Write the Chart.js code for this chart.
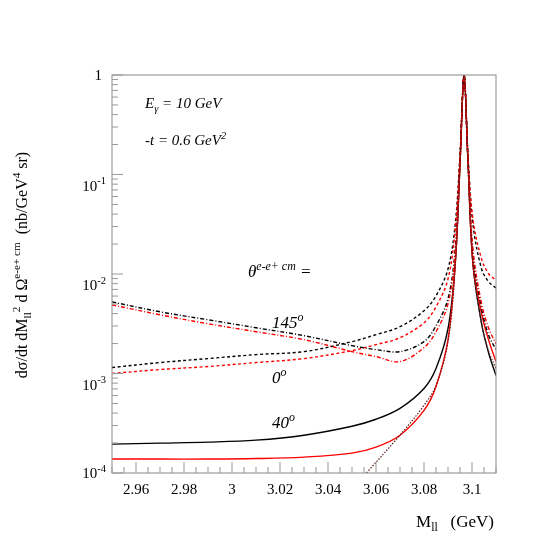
<!DOCTYPE html>
<html><head><meta charset="utf-8">
<script src="https://cdn.jsdelivr.net/npm/chart.js@4.4.0/dist/chart.umd.min.js"></script>
<style>html,body{margin:0;background:#fff}#c{display:block}</style>
</head><body>
<canvas id="c" width="540" height="540"></canvas>
<script>
// ====== data (log10 of cross section) ======
const xs = [2.95,2.97,2.99,3.01,3.03,3.05,3.06,3.07,3.08,3.085,3.09,3.093,3.095,3.0967,3.0983,3.1004,3.104,3.107,3.11];
const peakL = [-1.9,-0.9,0,-0.85,-1.9];
const blackSolid  = [-3.71,-3.70,-3.69,-3.67,-3.62,-3.53,-3.46,-3.35,-3.15,-2.95,-2.55, ...peakL,-2.5,-2.8,-3.02];
const redSolid    = [-3.86,-3.86,-3.86,-3.855,-3.84,-3.80,-3.74,-3.62,-3.37,-3.13,-2.66, ...peakL,-2.4,-2.67,-2.88];
const blackDashed = [-2.94,-2.89,-2.85,-2.81,-2.78,-2.68,-2.61,-2.53,-2.37,-2.22,-1.95, -1.5,-0.8,0,-0.8,-1.5,-1.95,-2.08,-2.14];
const redDashed   = [-3.00,-2.96,-2.93,-2.89,-2.85,-2.77,-2.71,-2.64,-2.49,-2.33,-2.05, -1.55,-0.82,0,-0.8,-1.45,-1.85,-2.0,-2.06];
const blackDashDot= [-2.28,-2.38,-2.46,-2.54,-2.62,-2.72,-2.76,-2.78,-2.68,-2.52,-2.25, -1.75,-0.85,0,-0.85,-1.8,-2.35,-2.62,-2.76];
const redDashDot  = [-2.31,-2.41,-2.5,-2.58,-2.66,-2.78,-2.83,-2.88,-2.74,-2.58,-2.3, -1.8,-0.87,0,-0.85,-1.75,-2.3,-2.55,-2.7];
const resX = [3.056,3.07,3.08,3.085,3.09,3.093,3.095,3.0967,3.0983,3.1004,3.104,3.107,3.11];
const resonance = [-4,-3.62,-3.32,-3.12,-2.68,-1.92,-0.9,0,-0.85,-1.9,-2.5,-2.78,-2.95];
const xTicks = [2.96,2.98,3.0,3.02,3.04,3.06,3.08,3.1];
const yDecades = [-4,-3,-2,-1,0];

const pts = (x, l) => x.map((v,i)=>({x:v, y:Math.pow(10,l[i])}));
const ds = (data, color, dash, w=1.4) => ({data, borderColor:color, borderWidth:w, borderDash:dash, pointRadius:0, tension:0.35, fill:false});

const SERIF = '"Liberation Serif","DejaVu Serif",serif';
// text with sup/sub segments
function rich(ctx, x, y, segs, size, italic, align){
  const f = (s)=> (italic?'italic ':'') + s + 'px ' + SERIF;
  let w = 0;
  segs.forEach(s=>{ ctx.font = f(s[1]?size*0.7:size); w += ctx.measureText(s[0]).width; });
  let cx = align==='right' ? x-w : align==='center' ? x-w/2 : x;
  ctx.textBaseline = 'alphabetic'; ctx.textAlign = 'left';
  segs.forEach(s=>{
    const sz = s[1]?size*0.7:size;
    ctx.font = f(sz);
    const dy = s[1]==='sup' ? -size*0.42 : s[1]==='sub' ? size*0.25 : 0;
    ctx.fillText(s[0], cx, y+dy);
    cx += ctx.measureText(s[0]).width;
  });
}

const deco = {
  id:'deco',
  afterDraw(chart){
    const {ctx, chartArea:a, scales:{x, y}} = chart;
    ctx.save();
    ctx.strokeStyle = '#888'; ctx.lineWidth = 1;
    ctx.strokeRect(a.left, a.top, a.right-a.left, a.bottom-a.top);
    // minor x ticks
    ctx.strokeStyle = '#999';
    for(let v=2.95; v<=3.1101; v+=0.005){
      const px = x.getPixelForValue(v);
      const major = xTicks.some(t=>Math.abs(t-v)<1e-6);
      ctx.beginPath(); ctx.moveTo(px, a.bottom); ctx.lineTo(px, a.bottom-(major?11:6)); ctx.stroke();
    }
    // y ticks
    yDecades.forEach(d=>{
      for(let k=1;k<10;k++){
        if(d===0 && k>1) break;
        const py = y.getPixelForValue(k*Math.pow(10,d));
        ctx.beginPath(); ctx.moveTo(a.left, py); ctx.lineTo(a.left+(k===1?11:6), py); ctx.stroke();
      }
    });
    ctx.fillStyle = '#000';
    yDecades.forEach(d=>{
      const py = y.getPixelForValue(Math.pow(10,d));
      if(d===0) rich(ctx, a.left-10, py+5, [['1']], 15, false, 'right');
      else if(d===-4) rich(ctx, a.left-6, py+5, [['10'],[String(d),'sup']], 15, false, 'right');
      else rich(ctx, a.left-6, py+16, [['10'],[String(d),'sup']], 15, false, 'right');
    });
    // labels
    rich(ctx, 145, 108, [['E'],['γ','sub'],[' = 10 GeV']], 15, true);
    rich(ctx, 145, 145, [['-t = 0.6 GeV'],['2','sup']], 15, true);
    rich(ctx, 248, 277, [['θ'],['e-e+ cm','sup'],[' =']], 17, true);
    rich(ctx, 272, 328, [['145'],['o','sup']], 17, true);
    rich(ctx, 272, 383, [['0'],['o','sup']], 17, true);
    rich(ctx, 272, 428, [['40'],['o','sup']], 17, true);
    rich(ctx, 494, 527, [['M'],['ll','sub'],['   (GeV)']], 17, false, 'right');
    ctx.translate(27, 265); ctx.rotate(-Math.PI/2);
    rich(ctx, 0, 0, [['dσ/dt dM'],['ll','sub'],['2','sup'],[' d Ω'],['e-e+ cm','sup'],['  (nb/GeV'],['4','sup'],[' sr)']], 16, false, 'center');
    ctx.restore();
  }
};

new Chart(document.getElementById('c'), {
  type:'line',
  data:{datasets:[
    ds(pts(resX, resonance), '#5a1e1e', [1.5,1.5], 1.2),
    ds(pts(xs, redDashDot), '#ff0000', [4,2,1,2]),
    ds(pts(xs, blackDashDot), '#000', [4,2,1,2]),
    ds(pts(xs, redDashed), '#ff0000', [3,2.5]),
    ds(pts(xs, blackDashed), '#000', [3,2.5]),
    ds(pts(xs, redSolid), '#ff0000', []),
    ds(pts(xs, blackSolid), '#000', []),
  ]},
  options:{
    responsive:false, animation:false,
    layout:{padding:{left:0, top:75, right:44, bottom:0}},
    plugins:{legend:{display:false}, tooltip:{enabled:false}},
    scales:{
      x:{type:'linear', min:2.95, max:3.11,
        afterBuildTicks: s=>{ s.ticks = xTicks.map(v=>({value:v})); },
        afterFit: s=>{ s.height = 67; },
        grid:{display:false, drawTicks:false}, border:{display:false},
        ticks:{padding:8, color:'#000', font:{family:SERIF, size:15}, maxRotation:0,
          callback: v=> String(+v.toFixed(2))}},
      y:{type:'logarithmic', min:1e-4, max:1,
        afterFit: s=>{ s.width = 112; },
        grid:{display:false, drawTicks:false}, border:{display:false},
        ticks:{display:false}}
    }
  },
  plugins:[deco]
});
</script>
</body></html>
